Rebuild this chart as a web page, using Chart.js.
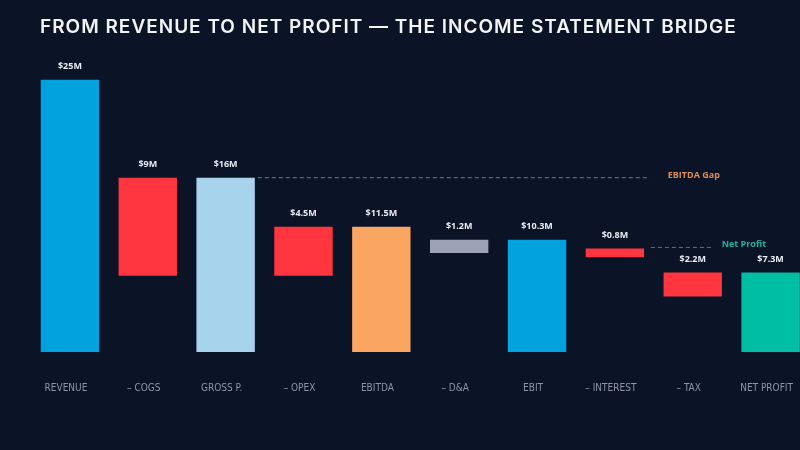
<!DOCTYPE html>
<html>
<head>
<meta charset="utf-8">
<script src="https://cdn.jsdelivr.net/npm/chart.js@4"></script>
<style>
  html, body { margin:0; padding:0; width:800px; height:450px; overflow:hidden; background:#0b1326; }
  #wrap { position:absolute; left:0; top:0; width:827px; height:450px; }
  h1 { position:absolute; left:40px; top:15px; margin:0; font-family:Inter, "Open Sans", sans-serif; font-weight:600; font-size:19px; letter-spacing:1px; color:#f2f4f8; white-space:nowrap; }
</style>
</head>
<body>
<div id="wrap"><canvas id="c" width="827" height="450"></canvas></div>
<h1>FROM REVENUE TO NET PROFIT — THE INCOME STATEMENT BRIDGE</h1>
<script>
const categories = ["REVENUE", "– COGS", "GROSS P.", "– OPEX", "EBITDA", "– D&A", "EBIT", "– INTEREST", "– TAX", "NET PROFIT"];
const barLow  = [0, 7, 0, 7, 0, 9.1, 0, 8.7, 5.1, 0];
const barHigh = [25, 16, 16, 11.5, 11.5, 10.3, 10.3, 9.5, 7.3, 7.3];
const valueLabels = ["$25M", "$9M", "$16M", "$4.5M", "$11.5M", "$1.2M", "$10.3M", "$0.8M", "$2.2M", "$7.3M"];
const barColors = ["#00a3de", "#ff363f", "#a8d3ec", "#ff363f", "#fba562", "#9ba3b5", "#00a3de", "#ff363f", "#ff363f", "#00bea3"];
const ebitdaGapLevel = 16;
const netProfitLevel = 9.6;
const yMax = 28;

const overlay = {
  id: 'overlay',
  afterDatasetsDraw(chart) {
    const ctx = chart.ctx;
    const y = chart.scales.y;
    const meta = chart.getDatasetMeta(0);
    ctx.save();
    ctx.font = 'bold 9px "Open Sans", sans-serif';
    ctx.fillStyle = '#e9ecf2';
    ctx.textAlign = 'center';
    ctx.textBaseline = 'middle';
    meta.data.forEach((bar, i) => {
      const top = y.getPixelForValue(barHigh[i]);
      ctx.fillText(valueLabels[i], bar.x, top - 13);
    });
    const half = meta.data[2].width / 2;
    ctx.setLineDash([4, 3]);
    ctx.lineWidth = 1;
    ctx.strokeStyle = 'rgba(150,160,178,0.75)';
    const yg = y.getPixelForValue(ebitdaGapLevel);
    ctx.beginPath();
    ctx.moveTo(meta.data[2].x + half + 3, yg);
    ctx.lineTo(meta.data[7].x + 35, yg);
    ctx.stroke();
    ctx.setLineDash([]);
    ctx.textAlign = 'left';
    ctx.fillStyle = '#d98f58';
    ctx.fillText('EBITDA Gap', meta.data[8].x - 25, yg - 2);
    const yn = y.getPixelForValue(netProfitLevel);
    ctx.setLineDash([4, 3]);
    ctx.strokeStyle = 'rgba(28,160,150,0.9)';
    ctx.beginPath();
    ctx.moveTo(meta.data[7].x + 36, yn);
    ctx.lineTo(meta.data[8].x + 20, yn);
    ctx.stroke();
    ctx.setLineDash([]);
    ctx.fillStyle = '#1db3a3';
    ctx.fillText('Net Profit', meta.data[8].x + 29, yn - 3);
    ctx.restore();
  }
};

new Chart(document.getElementById('c'), {
  type: 'bar',
  data: {
    labels: categories,
    datasets: [{
      data: categories.map((c, i) => [barLow[i], barHigh[i]]),
      backgroundColor: barColors,
      borderWidth: 0,
      barPercentage: 0.75,
      categoryPercentage: 1.0
    }]
  },
  options: {
    responsive: false,
    animation: false,
    layout: { padding: { left: 31, right: 0, top: 47, bottom: 26 } },
    plugins: { legend: { display: false }, tooltip: { enabled: false }, title: { display: false } },
    scales: {
      x: {
        grid: { display: false, drawTicks: false },
        border: { display: false },
        ticks: { color: '#8e96a6', padding: 30, labelOffset: -4, font: { family: '"Liberation Sans Narrow", "DejaVu Sans Condensed", "Open Sans", sans-serif', size: 10 }, maxRotation: 0, autoSkip: false }
      },
      y: { display: false, min: 0, max: yMax }
    }
  },
  plugins: [overlay]
});
</script>
</body>
</html>
